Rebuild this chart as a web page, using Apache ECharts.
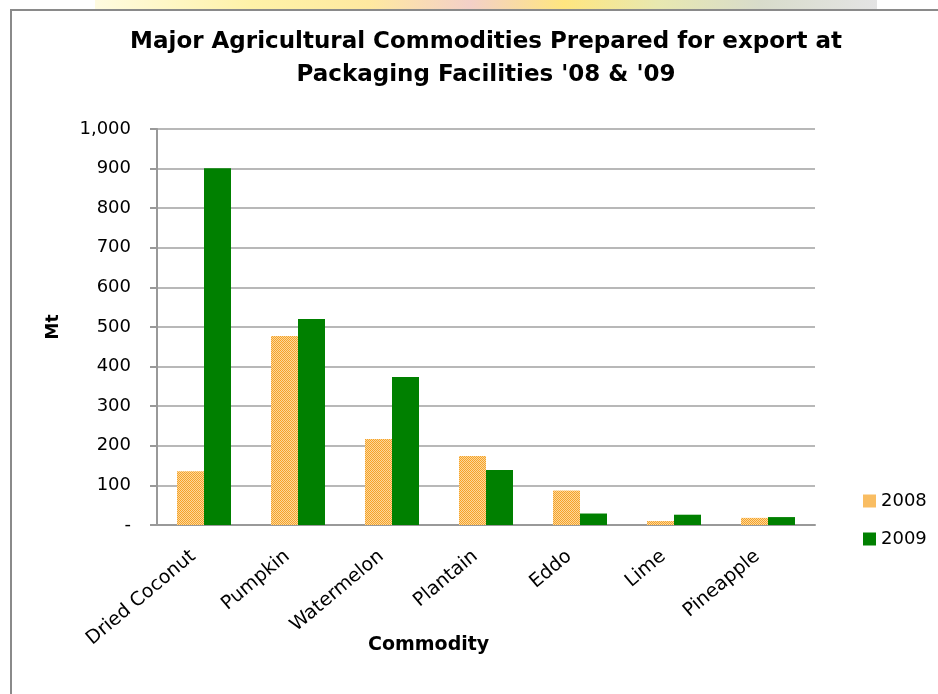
<!DOCTYPE html>
<html>
<head>
<meta charset="utf-8">
<script src="https://cdn.jsdelivr.net/npm/echarts@6/dist/echarts.min.js"></script>
<style>
  html,body{margin:0;padding:0;background:#fff;overflow:hidden;}
  #wrap{position:relative;width:938px;height:694px;overflow:hidden;background:#fff;}
  #banner{position:absolute;left:95px;top:0;width:782px;height:9px;
    background:linear-gradient(90deg,#fffbe0 0%,#fff2a8 20%,#ffe9a0 35%,#f3d0c8 48%,#ffe680 60%,#e8e8b0 72%,#d8dccb 85%,#e4e4e4 100%);}
  #chart{position:absolute;left:0;top:0;width:938px;height:694px;}
</style>
</head>
<body>
<div id="wrap">
  <div id="banner"></div>
  <div id="chart"></div>
</div>
<script>
const categories = ['Dried Coconut', 'Pumpkin', 'Watermelon', 'Plantain', 'Eddo', 'Lime', 'Pineapple'];
const values2008 = [136, 477, 217, 174, 87, 10, 18];
const values2009 = [901, 520, 374, 139, 29, 26, 20];
const yTicks = [0, 100, 200, 300, 400, 500, 600, 700, 800, 900, 1000];

const pc = document.createElement('canvas');
pc.width = 2; pc.height = 2;
const ctx = pc.getContext('2d');
ctx.fillStyle = '#fdd89a'; ctx.fillRect(0, 0, 2, 2);
ctx.fillStyle = '#f5a22a'; ctx.fillRect(0, 0, 1, 1); ctx.fillRect(1, 1, 1, 1);

const FONT = 'DejaVu Sans';
const chart = echarts.init(document.getElementById('chart'), null, {renderer: 'canvas'});
chart.setOption({
  backgroundColor: 'transparent',
  animation: false,
  title: {
    text: "Major Agricultural Commodities Prepared for export at\nPackaging Facilities '08 & '09",
    left: 481, top: 21, textAlign: 'center',
    textStyle: {fontFamily: FONT, fontWeight: 'bold', fontSize: 23, lineHeight: 33, color: '#000'}
  },
  legend: {
    orient: 'vertical', left: 858, top: 487, itemWidth: 13, itemHeight: 13, itemGap: 20,
    icon: 'rect',
    textStyle: {fontFamily: FONT, fontSize: 18, color: '#000'},
    data: ['2008', '2009']
  },
  grid: {left: 157, right: 123, top: 129, bottom: 169, containLabel: false},
  xAxis: {
    type: 'category', data: categories,
    axisLine: {lineStyle: {color: '#999', width: 2}},
    axisTick: {show: false},
    axisLabel: {rotate: 40, margin: 20, padding: [0, 14, 0, 0], interval: 0,
      fontFamily: FONT, fontSize: 19, color: '#000'}
  },
  yAxis: {
    type: 'value', min: 0, max: 1000, interval: 100,
    name: 'Mt', nameLocation: 'middle', nameRotate: 90, nameGap: 95,
    nameTextStyle: {fontFamily: FONT, fontWeight: 'bold', fontSize: 17, color: '#000'},
    axisLine: {show: true, lineStyle: {color: '#999', width: 2}},
    axisTick: {show: true, length: 7, lineStyle: {color: '#999', width: 2}},
    splitLine: {lineStyle: {color: '#a0a0a0', width: 1.5}},
    axisLabel: {margin: 26, fontFamily: FONT, fontSize: 18, color: '#000',
      formatter: v => yTicks.includes(v) ? (v === 0 ? '-' : v.toLocaleString('en-US')) : ''}
  },
  graphic: [
    {type: 'polyline', silent: true, z: -1,
     shape: {points: [[11, 700], [11, 10], [945, 10]]},
     style: {stroke: '#8a8a8a', lineWidth: 2, fill: null}},
    {type: 'text', left: 368, top: 636,
     style: {text: 'Commodity', fill: '#000', font: 'bold 19px "DejaVu Sans"'}}
  ],
  series: [
    {name: '2008', type: 'bar', data: values2008, barWidth: 27, barGap: '0%',
     itemStyle: {color: {image: pc, repeat: 'repeat'}}},
    {name: '2009', type: 'bar', data: values2009, barWidth: 27, barGap: '0%',
     itemStyle: {color: '#008000'}}
  ]
});
</script>
</body>
</html>
